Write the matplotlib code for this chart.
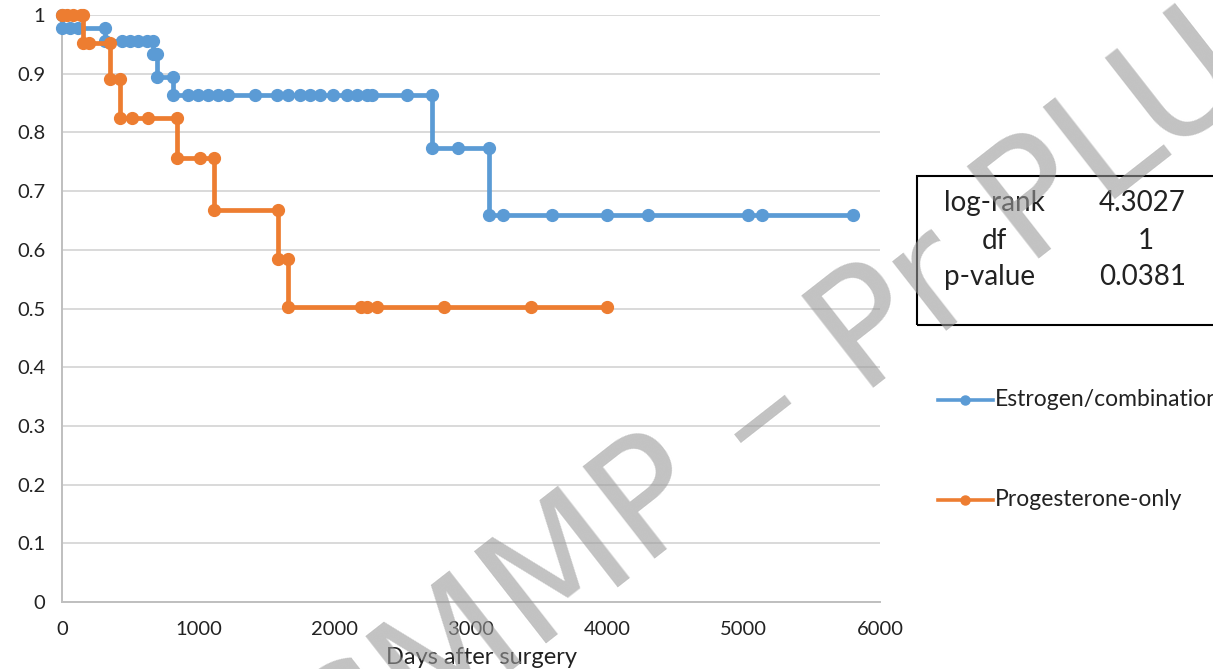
import matplotlib.pyplot as plt
from matplotlib.lines import Line2D
from matplotlib.patches import Rectangle

# Kaplan-Meier points as plotted in the spreadsheet (each point gets a marker)
estrogen_days = [0, 0, 60, 115, 315, 315, 440, 500, 560, 620, 670, 670, 700, 700, 815,
                 815, 925, 1000, 1070, 1145, 1220, 1415, 1575, 1660, 1745, 1820,
                 1895, 1990, 2090, 2165, 2240, 2275, 2530, 2715, 2715, 2905, 3130,
                 3130, 3235, 3595, 4000, 4300, 5035, 5135, 5805]
estrogen_surv = [1.0, 0.978, 0.978, 0.978, 0.978, 0.956, 0.956, 0.956, 0.956, 0.956,
                 0.956, 0.933, 0.933, 0.895, 0.895, 0.864, 0.864, 0.864, 0.864,
                 0.864, 0.864, 0.864, 0.864, 0.864, 0.864, 0.864, 0.864, 0.864,
                 0.864, 0.864, 0.864, 0.864, 0.864, 0.864, 0.773, 0.773, 0.773,
                 0.659, 0.659, 0.659, 0.659, 0.659, 0.659, 0.659, 0.659]

progest_days = [0, 40, 80, 140, 155, 155, 200, 350, 350, 425, 425, 515, 630, 840,
                840, 1010, 1115, 1115, 1585, 1585, 1660, 1660, 2190, 2240, 2310,
                2800, 3440, 4000]
progest_surv = [1.0, 1.0, 1.0, 1.0, 1.0, 0.952, 0.952, 0.952, 0.891, 0.891, 0.824,
                0.824, 0.824, 0.824, 0.756, 0.756, 0.756, 0.668, 0.668, 0.584,
                0.584, 0.503, 0.503, 0.503, 0.503, 0.503, 0.503, 0.503]

series_names = ["Estrogen/combination", "Progesterone-only"]
series_colors = ["#5B9BD5", "#ED7D31"]

stat_names = ["log-rank", "df", "p-value"]
stat_values = ["4.3027", "1", "0.0381"]

FONT = "Lato"
TXT = '#222222'
W, H = 1213, 669


def fx(px):
    return px / W


def fy(py):
    return 1 - py / H


plt.rcParams['font.family'] = FONT
fig = plt.figure(figsize=(W / 100, H / 100), dpi=100)
ax = fig.add_axes([fx(62), fy(602), fx(880) - fx(62), fy(15) - fy(602)])

ax.plot(estrogen_days, estrogen_surv, color=series_colors[0], lw=3.4,
        marker='o', ms=8.5, clip_on=False, zorder=3)
ax.plot(progest_days, progest_surv, color=series_colors[1], lw=3.4,
        marker='o', ms=8.5, clip_on=False, zorder=4)

ax.set_xlim(0, 6000)
ax.set_ylim(0, 1)
ax.set_xticks(range(0, 6001, 1000))
ax.set_yticks([i / 10 for i in range(11)])
ax.set_yticklabels(["0"] + ["0.%d" % i for i in range(1, 10)] + ["1"])
ax.tick_params(length=0, labelsize=14.5, colors=TXT)
ax.tick_params(axis='y', pad=12)
ax.tick_params(axis='x', pad=14)
ax.grid(axis='y', color='#d9d9d9', lw=1.4)
ax.set_axisbelow(True)
for s in ['top', 'right']:
    ax.spines[s].set_visible(False)
for s in ['left', 'bottom']:
    ax.spines[s].set_color('#bfbfbf')
    ax.spines[s].set_linewidth(1.4)
ax.set_xlabel("Days after surgery", fontsize=17, color=TXT)
ax.xaxis.set_label_coords((481 - 62) / 818, -(657 - 602) / 587)
ax.xaxis.label.set_va('center')

# statistics box
fig.patches.append(Rectangle((fx(917), fy(325)), fx(1230) - fx(917), fy(176) - fy(325),
                             transform=fig.transFigure, fill=False, ec='black', lw=1.5))
rows_y = [203, 241, 277]
for name, val, py in zip(stat_names, stat_values, rows_y):
    if name == "df":
        fig.text(fx(994), fy(py), name, fontsize=20, ha='center', va='center', color=TXT)
        fig.text(fx(1146), fy(py), val, fontsize=20, ha='center', va='center', color=TXT)
    else:
        fig.text(fx(944), fy(py), name, fontsize=20, ha='left', va='center', color=TXT)
        fig.text(fx(1099), fy(py), val, fontsize=20, ha='left', va='center', color=TXT)

# legend
for name, color, py in zip(series_names, series_colors, [400, 500]):
    fig.add_artist(Line2D([fx(938), fx(993)], [fy(py), fy(py)], color=color, lw=2.6,
                          transform=fig.transFigure))
    fig.add_artist(Line2D([fx(965)], [fy(py)], color=color, marker='o', ms=6.5,
                          transform=fig.transFigure))
    fig.text(fx(995), fy(py), name, fontsize=16.5, ha='left', va='center', color=TXT)

# watermark
fig.text(fx(338), fy(806), "CMMP \u2013 Pr PLU-P", fontsize=115, rotation=38,
         family="DejaVu Sans", color='#9a9a9a', alpha=0.6, ha='left', va='baseline',
         rotation_mode='anchor', zorder=10)

fig.savefig("out.png", dpi=100)
